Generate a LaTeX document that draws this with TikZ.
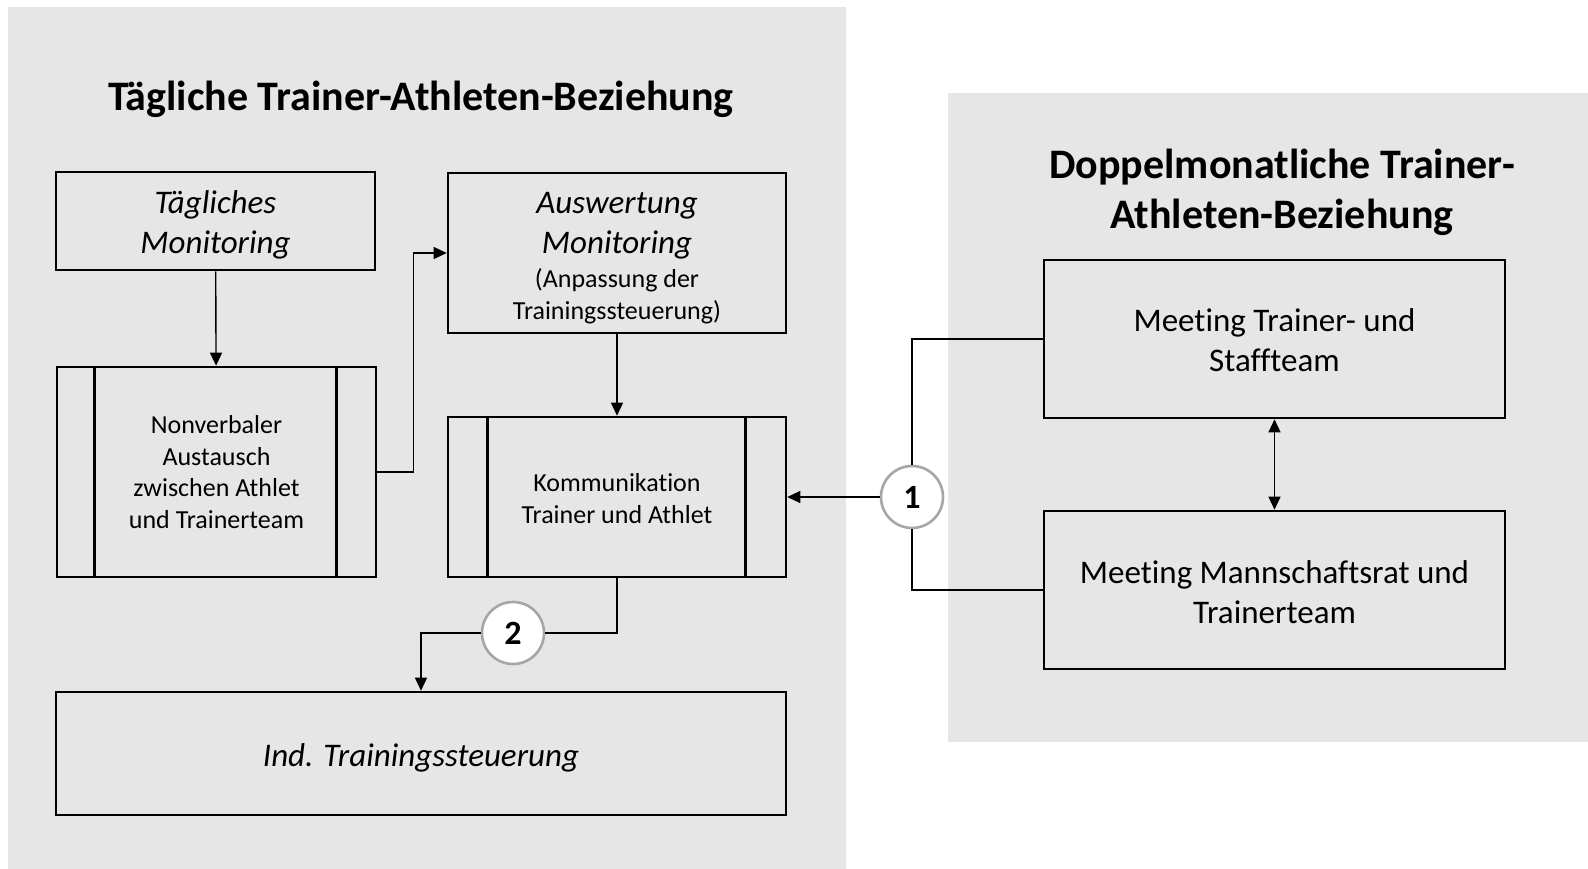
\documentclass[tikz,border=0pt]{standalone}
\usepackage{fontspec}
\setmainfont{Carlito}[Ligatures=NoCommon]
\usetikzlibrary{arrows.meta}
\definecolor{panel}{HTML}{E6E6E6}
\definecolor{ringgray}{HTML}{A6A6A6}
% text block set a little lower than the box centre, box size unchanged
\newcommand{\lowered}[3]{\raisebox{-#1}[\height][\depth]{\parbox{#2}{\centering #3}}}

\begin{document}
\begin{tikzpicture}[x=1pt,y=-1pt,
  box/.style={draw,line width=2.6pt,align=center,inner sep=0pt},
  big/.style={font=\fontsize{33}{40}\selectfont},
  small/.style={font=\fontsize{26}{31.5}\selectfont},
  ttl/.style={font=\fontsize{42}{50}\selectfont\bfseries,align=center},
  num/.style={circle,draw=ringgray,line width=2.6pt,fill=white,minimum size=62pt,inner sep=0pt,font=\fontsize{34}{34}\selectfont\bfseries},
  ar/.style={-{Triangle[length=13pt,width=12pt]},line width=1.4pt},
  dar/.style={{Triangle[length=13pt,width=12pt]}-{Triangle[length=13pt,width=12pt]},line width=1.4pt}]
\useasboundingbox (0,0) rectangle (1588,869);
\fill[panel] (8,7) rectangle (846,869);
\fill[panel] (948,93) rectangle (1588,742);

\node[ttl] (t1) at (421,99) {Tägliche Trainer-Athleten-Beziehung};
\node[ttl] (t2) at (1282,192) {Doppelmonatliche Trainer-\\Athleten-Beziehung};

\node[box,big,minimum width=319pt,minimum height=98pt] (mon) at (215.5,221)
  {\lowered{4pt}{300pt}{\itshape Tägliches\\Monitoring}};
\node[box,big,minimum width=338pt,minimum height=160pt] (ausw) at (617,253)
  {\lowered{5pt}{320pt}{\itshape Auswertung\\Monitoring\par\vspace{3pt}
   \upshape\fontsize{26}{31.5}\selectfont (Anpassung der\\Trainingssteuerung)}};
\node[box,small,minimum width=319pt,minimum height=210pt] (nonv) at (216.5,472)
  {Nonverbaler\\Austausch\\zwischen Athlet\\und Trainerteam};
\node[box,small,minimum width=338pt,minimum height=160pt] (kom) at (617,497)
  {\lowered{1.5pt}{320pt}{Kommunikation\\Trainer und Athlet}};
\node[box,big,minimum width=730pt,minimum height=123pt] (ind) at (421,753.5)
  {\lowered{4pt}{700pt}{\itshape Ind. Trainingssteuerung}};
\node[box,big,minimum width=461pt,minimum height=158pt] (mts) at (1274.5,339)
  {\lowered{1.5pt}{440pt}{Meeting Trainer- und\\Staffteam}};
\node[box,big,minimum width=461pt,minimum height=158pt] (mmt) at (1274.5,590)
  {\lowered{2pt}{440pt}{Meeting Mannschaftsrat und\\Trainerteam}};

% inner bars of the process boxes
\draw[line width=2.6pt] ([xshift=39pt]nonv.north west) -- ([xshift=39pt]nonv.south west);
\draw[line width=2.6pt] ([xshift=-41pt]nonv.north east) -- ([xshift=-41pt]nonv.south east);
\draw[line width=2.6pt] ([xshift=41pt]kom.north west) -- ([xshift=41pt]kom.south west);
\draw[line width=2.6pt] ([xshift=-42pt]kom.north east) -- ([xshift=-42pt]kom.south east);

\node[num] (c1) at (912,497) {1};
\node[num] (c2) at (513,633) {2};

\draw[ar] (mon) -- (nonv);
\draw[ar] (nonv.east) -- ++(36,0) |- (ausw.west);
\draw[ar] (ausw) -- (kom);
\draw[line width=1.4pt] (kom.south) |- (c2.east);
\draw[ar] (c2.west) -| (ind.north);
\draw[line width=1.4pt] (mts.west) -| (c1.north);
\draw[line width=1.4pt] (mmt.west) -| (c1.south);
\draw[ar] (c1.west) -- (kom.east);
\draw[dar] (mts) -- (mmt);
\end{tikzpicture}
\end{document}
